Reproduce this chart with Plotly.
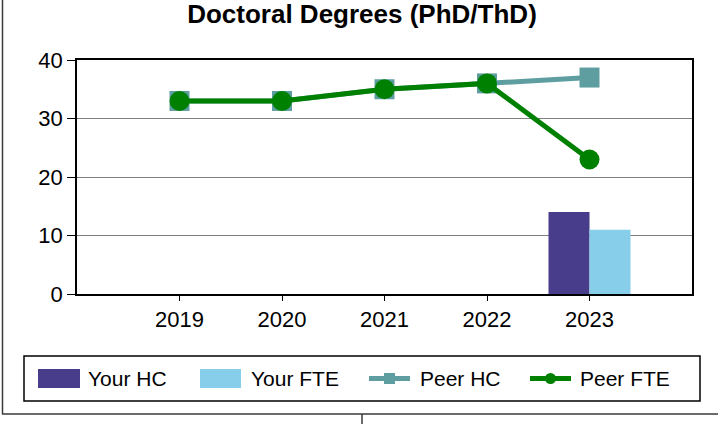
import plotly.graph_objects as go

years = ["2019", "2020", "2021", "2022", "2023"]
your_hc = [None, None, None, None, 14]
your_fte = [None, None, None, None, 11]
peer_hc = [33, 33, 35, 36, 37]
peer_fte = [33, 33, 35, 36, 23]
y_ticks = [0, 10, 20, 30, 40]
legend_names = ["Your HC", "Your FTE", "Peer HC", "Peer FTE"]

C_YHC = "#483D8B"
C_YFTE = "#87CEEB"
C_PHC = "#5F9EA0"
C_PFTE = "#008000"

W, H = 718, 424
L, R, T, B = 77, 692, 60, 294
FONT = "Arial, Liberation Sans, sans-serif"


def px(x):
    return (x - L) / (R - L)


def py(y):
    return (B - y) / (B - T)


fig = go.Figure()
fig.add_trace(go.Bar(x=years, y=your_hc, name=legend_names[0], marker=dict(color=C_YHC, line=dict(width=0))))
fig.add_trace(go.Bar(x=years, y=your_fte, name=legend_names[1], marker=dict(color=C_YFTE, line=dict(width=0))))
fig.add_trace(go.Scatter(x=years, y=peer_hc, name=legend_names[2], mode="lines+markers",
                         line=dict(color=C_PHC, width=5),
                         marker=dict(symbol="square", size=20, color=C_PHC)))
fig.add_trace(go.Scatter(x=years, y=peer_fte, name=legend_names[3], mode="lines+markers",
                         line=dict(color=C_PFTE, width=5),
                         marker=dict(symbol="circle", size=20, color=C_PFTE)))

shapes = []
# figure frame
frame = dict(type="line", xref="paper", yref="paper", line=dict(color="#3a3a3a", width=1.5), layer="above")
shapes.append(dict(frame, x0=px(2.5), x1=px(2.5), y0=py(0), y1=py(414)))
shapes.append(dict(frame, x0=px(2), x1=px(718), y0=py(414), y1=py(414)))
shapes.append(dict(frame, x0=px(362), x1=px(362), y0=py(414), y1=py(424)))
# legend box
shapes.append(dict(type="rect", xref="paper", yref="paper", x0=px(24), x1=px(700), y0=py(356), y1=py(401),
                   line=dict(color="black", width=1.5), fillcolor="white"))
# legend swatches
shapes.append(dict(type="rect", xref="paper", yref="paper", x0=px(38), x1=px(80), y0=py(369), y1=py(388),
                   line=dict(width=0), fillcolor=C_YHC))
shapes.append(dict(type="rect", xref="paper", yref="paper", x0=px(200), x1=px(241), y0=py(369), y1=py(388),
                   line=dict(width=0), fillcolor=C_YFTE))
shapes.append(dict(type="line", xref="paper", yref="paper", x0=px(369), x1=px(410), y0=py(378.5), y1=py(378.5),
                   line=dict(color=C_PHC, width=5)))
shapes.append(dict(type="rect", xref="paper", yref="paper", x0=px(384), x1=px(395), y0=py(373), y1=py(384),
                   line=dict(width=0), fillcolor=C_PHC))
shapes.append(dict(type="line", xref="paper", yref="paper", x0=px(530), x1=px(571), y0=py(378.5), y1=py(378.5),
                   line=dict(color=C_PFTE, width=5)))
shapes.append(dict(type="circle", xref="paper", yref="paper", x0=px(545), x1=px(556), y0=py(373), y1=py(384),
                   line=dict(width=0), fillcolor=C_PFTE))

annotations = []
for name, x in zip(legend_names, [86, 249, 418, 578]):
    annotations.append(dict(text=name, xref="paper", yref="paper", x=px(x), y=py(378.5),
                            xanchor="left", yanchor="middle", showarrow=False,
                            font=dict(family=FONT, size=21, color="black")))

fig.update_layout(
    width=W, height=H,
    margin=dict(l=L, r=W - R, t=T, b=H - B, pad=0),
    paper_bgcolor="white", plot_bgcolor="white",
    title=dict(text="<b>Doctoral Degrees (PhD/ThD)</b>", x=362 / W, xanchor="center",
               y=1 - 14 / H, yanchor="middle", font=dict(family=FONT, size=26, color="black")),
    barmode="group", bargap=0.2, bargroupgap=0,
    showlegend=False,
    shapes=shapes, annotations=annotations,
    xaxis=dict(type="category", range=[-1, 5], showgrid=False, showline=True, linecolor="black",
               linewidth=1.5, mirror=True, ticks="outside", ticklen=5, tickcolor="black",
               tickfont=dict(family=FONT, size=22, color="black"), fixedrange=True),
    yaxis=dict(range=[0, 40], tickvals=y_ticks, showgrid=True, gridcolor="#808080", gridwidth=1,
               showline=True, linecolor="black", linewidth=1.5, mirror=True, ticks="outside",
               ticklen=8, tickcolor="black", zeroline=False,
               tickfont=dict(family=FONT, size=22, color="black")),
)

fig.write_html("out.html", config={"displayModeBar": False},
               post_script="document.body.style.margin='0';")
